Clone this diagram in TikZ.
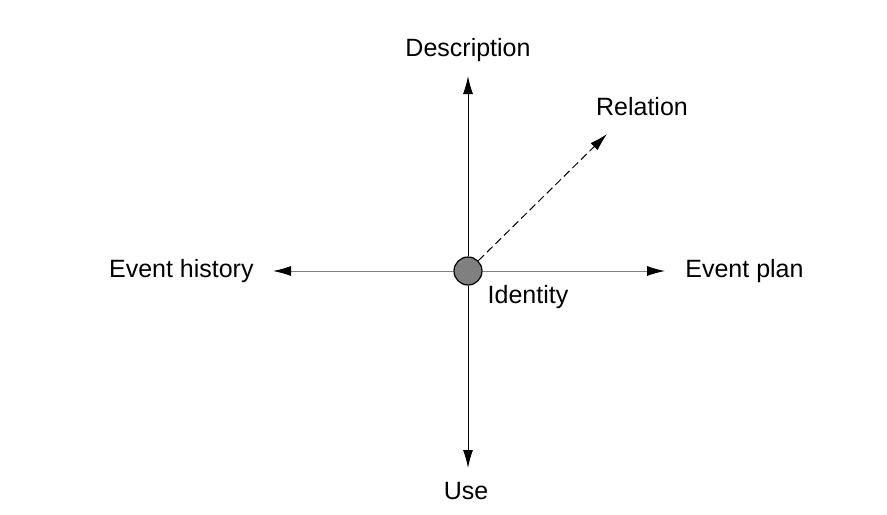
\documentclass[tikz,border=0pt]{standalone}
\usepackage{fontspec}
\setmainfont{Liberation Sans}
\usetikzlibrary{positioning, arrows.meta}

\tikzset{
  axis/.style={line width=0.5pt, -{Latex[length=9pt, width=5pt, color=black]}},
  label/.style={font=\fontsize{12.5}{15}\selectfont, inner sep=1pt}
}

\begin{document}
\begin{tikzpicture}[x=0.5pt, y=-0.5pt]
    \useasboundingbox (0,0) rectangle (887,514);

    % Centre point
    \node[circle, draw, line width=0.6pt, fill={rgb,255:red,128;green,128;blue,128},
          minimum size=14pt, inner sep=0pt] (identity) at (468,271) {};
    \node[label] (identitylabel) at (528,297) {Identity};

    % Arrow ends
    \coordinate (tipup) at (468,76);
    \coordinate (tipdown) at (468,468);
    \coordinate (tipleft) at (273,271);
    \coordinate (tipright) at (665,271);
    \coordinate (tiprel) at (607,134);

    % Labels
    \node[label] (description) at (468,50) {Description};
    \node[label] (use) at (466,491) {Use};
    \node[label, anchor=east] (history) at (256,271) {Event history};
    \node[label, anchor=west] (plan) at (683,271) {Event plan};
    \node[label] (relation) at (642,107) {Relation};

    % Axes
    \draw[axis] (identity.north) -- (tipup);
    \draw[axis] (identity.south) -- (tipdown);
    \draw[axis, draw=gray] (identity.west) -- (tipleft);
    \draw[axis, draw=gray] (identity.east) -- (tipright);
    \draw[axis, dash pattern=on 4pt off 2pt] (identity.45) -- (tiprel);
\end{tikzpicture}
\end{document}
